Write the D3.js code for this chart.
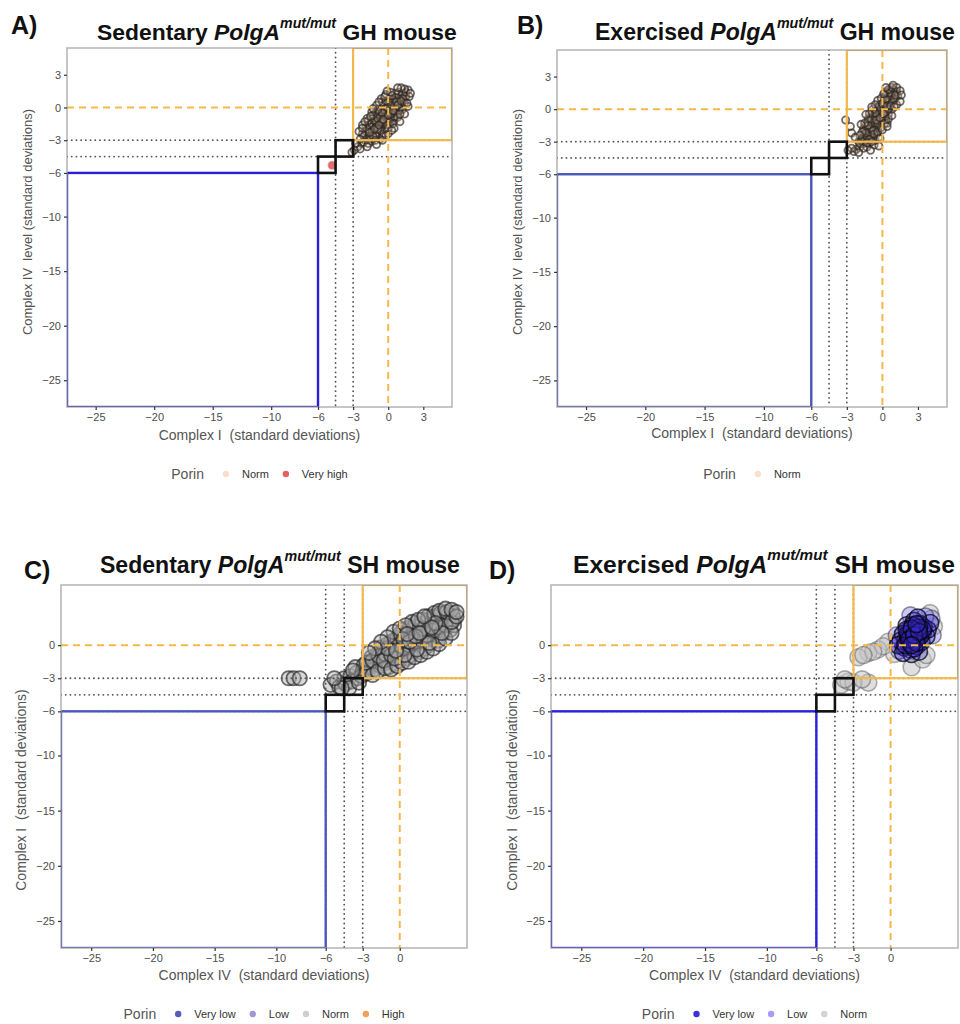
<!DOCTYPE html>
<html>
<head>
<meta charset="utf-8">
<script src="https://cdn.jsdelivr.net/npm/d3@7"></script>
<style>
  html, body { margin: 0; padding: 0; background: #fff; }
  svg { display: block; }
  text { font-family: "Liberation Sans", Arial, sans-serif; }
</style>
</head>
<body>
<svg id="fig" width="960" height="1024"></svg>
<script>
// ---- axis ticks and threshold levels (standard deviations) ----
const ticksGH = [-25, -20, -15, -10, -6, -3, 0, 3];
const ticksSH = [-25, -20, -15, -10, -6, -3, 0];
const dottedGH = [-4.5, -3];
const dottedSH = [-6, -4.5, -3];
const squareCorners = [[-6, -4.5], [-4.5, -3]];

// ---- porin categories per panel ----
const porinGH_sed = ["Norm", "Very high"];
const porinGH_exe = ["Norm"];
const porinSH_sed = ["Very low", "Low", "Norm", "High"];
const porinSH_exe = ["Very low", "Low", "Norm"];

// ---- fibre z-scores [x, y] ----
// Sedentary GH: Complex I (x) vs Complex IV (y)
const sedGH_norm = [
  [-0.5,-1.0],[-0.3,-0.8],[-0.7,-1.3],[0.0,-0.5],[0.2,-0.2],[-0.9,-1.5],[-1.1,-1.9],[0.4,0.1],
  [0.6,0.3],[-0.2,-1.2],[-0.6,-0.6],[-1.3,-2.2],[0.1,-0.9],[-0.4,-1.6],[0.8,0.6],[-0.8,-0.9],
  [-1.0,-1.2],[0.3,-0.5],[-1.5,-2.5],[0.5,-0.3],[-0.1,-0.3],[-1.2,-1.6],[1.0,0.8],[-0.3,-2.0],
  [0.7,-0.1],[-1.6,-2.0],[-0.9,-2.3],[0.9,0.2],[-0.6,-1.8],[0.0,0.2],[-1.4,-1.4],[0.2,-1.4],
  [1.1,1.1],[-1.8,-2.8],[-0.2,-0.1],[0.6,0.9],[-1.0,-0.7],[-0.5,-2.5],[0.4,-1.0],[-1.7,-2.4],
  [1.2,0.5],[-0.8,-0.3],[0.3,0.5],[-1.2,-2.8],[-2.0,-3.0],[0.8,-0.5],[-0.4,0.2],[1.3,1.3],
  [-1.4,-3.1],[-2.1,-2.6],[0.1,0.8],[-0.7,-2.9],[0.5,-1.2],[-1.9,-1.8],[-1.1,-0.5],[0.9,1.4],
  [1.5,1.0],[-2.3,-3.3],[-0.2,-2.6],[0.6,1.3],[-0.6,-1.1],[-0.1,-0.7],[0.2,0.0],[-1.3,-1.0],
  [-0.8,-1.9],[0.4,0.4],[-1.6,-2.7],[0.7,0.9],[-0.4,-0.4],[-1.0,-2.5],[0.0,-1.3],[1.0,0.3],
  [-1.4,-1.8],[-1.0,-1.4],[-0.6,-1.0],[-0.2,-0.6],[0.2,-0.4],[0.6,0.0],[0.9,0.5],[-1.6,-1.6],
  [-1.2,-1.2],[-0.8,-0.6],[-0.4,-0.2],[0.0,0.0],[0.4,0.7],[-1.9,-2.2],[-1.5,-2.9],[-1.1,-2.5],
  [-0.7,-2.1],[-0.3,-1.5],[0.1,-1.1],[0.5,-0.8],[0.9,-0.3],[1.2,0.1],[-2.2,-2.4],[-1.8,-2.0],
  [-1.4,-2.2],[-1.0,-1.8],[-0.6,-1.4],[-0.2,-0.9],[0.2,-0.6],[0.6,-0.4],[1.0,0.0],[1.3,0.8],
  [-0.9,-1.0],[-0.5,-0.5],[-0.1,0.0],[0.3,0.2],[0.7,0.5],[-1.7,-1.2],[-1.3,-0.7],[-0.9,-0.2],
  [-0.5,0.5],[0.0,0.5],[-2.1,-3.2],[-1.7,-3.3],[-1.3,-2.6],[-0.9,-2.0],[-0.5,-1.3],[-0.1,-1.6],
  [0.4,-1.5],[0.8,-0.9],[1.2,-0.2],[1.4,0.4],[-1.2,-2.0],[-0.8,-1.6],[-0.4,-1.1],[0.0,-0.7],
  [0.4,-0.3],[0.8,0.2],[1.1,0.6],[-0.2,0.6],[-1.6,-2.3],[-2.4,-2.9],
  [-1.8,-1.0],[-1.4,-0.4],[-1.0,0.2],[-0.6,0.8],[-0.2,1.2],[-2.2,-1.6],[0.0,-2.4],[0.5,-1.9],
  [1.0,-1.3],[1.4,-0.6],[-0.5,-3.0],[1.7,0.1],[-2.0,-1.3],[-1.1,-3.0],[0.3,1.1],[1.5,1.4],
  [1.7,1.6],[1.4,1.7],[-2.6,-3.6],[-2.4,-3.8],[-2.8,-3.3],[1.8,1.0],[0.2,1.4],[-0.8,0.5],
  [-1.5,-0.8],[1.0,-0.6],[-2.5,-2.2],[-1.0,-3.4],[0.0,-1.9],[1.6,0.4],[-0.3,1.0],[-1.8,-3.6],
  [-2.9,-3.9],[-3.1,-4.1],[1.1,1.8],[-1.3,-0.1],[0.3,-2.1],[-2.2,-1.9],[0.8,1.8],[-0.1,1.5],[1.9,1.3]
];
const sedGH_veryHigh = [[-4.8,-5.3]];

// Exercised GH: Complex I (x) vs Complex IV (y)
const exeGH_norm = [
  [-0.4,-0.9],[-0.2,-0.5],[-0.6,-1.3],[0.0,-0.1],[0.2,0.3],[-0.8,-1.7],[-1.0,-2.1],[0.4,0.6],
  [0.6,1.0],[-0.1,-1.2],[-0.7,-0.7],[-1.2,-2.5],[0.2,-0.7],[-0.4,-1.8],[0.8,1.3],[-0.9,-1.1],
  [-1.1,-1.5],[0.4,-0.2],[-1.4,-2.9],[0.6,0.2],[-0.3,0.0],[-1.3,-1.9],[1.0,1.5],[-0.5,-2.3],
  [0.7,0.5],[-1.5,-2.3],[-0.8,-2.7],[0.9,0.9],[-0.6,-0.2],[0.1,0.7],[-1.2,-1.2],[0.3,-1.0],
  [0.9,1.8],[-1.6,-3.2],[-0.2,0.4],[0.5,1.4],[-0.9,-0.4],[-0.6,-2.9],[0.5,-0.5],[-1.7,-2.7],
  [1.1,1.1],[-0.4,0.8],[0.2,1.2],[-1.1,-3.1],[-1.9,-3.5],[0.8,0.0],[-0.2,-1.5],[1.2,1.6],
  [-1.3,-3.5],[-2.0,-3.0],[-0.1,1.0],[-0.7,-3.3],[0.4,-1.3],[-1.6,-1.8],[-1.0,-0.8],[0.7,1.7],
  [1.3,1.2],[-2.2,-3.7],[-0.3,-2.6],[0.3,1.6],[-1.4,-1.5],[-0.9,-2.4],[0.0,-0.8],[-0.5,-1.5],
  [0.1,0.1],[-0.3,-1.1],[0.6,0.7],[-1.2,-2.1],[-0.7,-1.0],[0.3,0.3],[-0.5,-0.3],[-1.0,-2.8],
  [-1.2,-2.3],[-0.9,-1.8],[-0.6,-1.1],[-0.3,-0.6],[0.0,-0.3],[0.3,0.1],[0.6,0.8],[-1.5,-2.6],
  [-1.1,-1.8],[-0.8,-1.3],[-0.5,-0.7],[-0.2,-0.3],[0.1,0.3],[0.4,1.0],[0.7,1.2],[-1.6,-3.0],
  [-1.3,-2.7],[-1.0,-2.4],[-0.7,-1.9],[-0.4,-1.3],[-0.1,-0.9],[0.2,-0.4],[0.5,0.0],[0.8,0.6],
  [1.0,0.9],[-1.8,-2.9],[-1.5,-2.0],[-1.2,-1.5],[-0.9,-0.9],[-0.6,-0.4],[-0.3,0.2],[0.0,0.5],
  [0.3,0.9],[0.6,1.5],[-0.8,-2.0],[-0.5,-1.0],[-0.2,-0.8],[0.1,-0.4],[0.4,0.3],[0.7,0.3],
  [1.1,1.3],[-1.4,-2.2],[-1.1,-2.8],[-0.7,-2.3],[-0.4,-2.1],[-0.1,-1.7],[0.2,-1.3],[0.5,-0.9],
  [-1.9,-3.2],[-1.6,-3.6],[-1.3,-3.1],[-0.9,-3.0],[0.2,1.5],[0.5,1.8],[0.8,2.0],[-0.8,0.0],
  [-1.2,-0.9],[-1.7,-2.1],[-1.9,-2.4],[-1.5,-1.3],[-1.1,-0.4],[-0.6,0.4],[0.0,-1.9],[0.4,-1.6],
  [0.8,-0.6],[1.2,0.4],[-0.2,-2.7],[0.1,1.4],
  [1.2,2.0],[0.9,2.2],[1.5,1.7],[-2.4,-3.9],[-2.0,-4.0],[-2.6,-3.6],[-3.1,-1.0],[-2.7,-1.6],
  [-2.6,-2.2],[-2.3,-2.6],[1.5,0.7],[1.0,0.2],[-1.8,-1.4],[-1.4,-0.5],[0.3,2.0],[-1.0,-3.8],
  [-2.9,-3.8],[-0.3,-3.4],[1.6,1.3],[-0.9,0.2]
];

// Sedentary SH: Complex IV (x) vs Complex I (y)
const sedSH_norm = [
  [-5.6,-3.6],[-5.1,-3.3],[-4.9,-3.8],[-4.5,-3.0],[-4.4,-3.5],[-4.0,-2.8],[-3.9,-3.3],[-4.1,-3.9],
  [-3.5,-2.5],[-3.4,-3.0],[-3.6,-2.0],[-3.0,-2.3],[-2.9,-1.8],[-3.1,-2.8],[-2.5,-2.0],[-2.4,-1.5],
  [-2.6,-2.5],[-2.3,-1.1],[-2.0,-1.7],[-1.9,-1.2],[-2.1,-2.2],[-1.8,-0.8],[-1.5,-1.4],[-1.4,-0.9],
  [-1.6,-1.9],[-1.3,-0.5],[-1.5,-0.2],[-1.0,-1.1],[-0.9,-0.6],[-1.1,-1.6],[-0.8,-0.2],[-1.0,0.1],
  [-0.9,-2.0],[-0.5,-0.8],[-0.4,-0.3],[-0.6,-1.3],[-0.3,0.1],[-0.5,0.4],[-0.4,-1.7],[0.0,-0.5],
  [0.1,0.0],[-0.1,-1.0],[0.0,0.4],[0.1,0.8],[0.0,-1.4],[0.5,-0.2],[0.4,0.3],[0.6,-0.7],
  [0.5,0.7],[0.4,1.1],[0.6,-1.2],[1.0,0.1],[1.1,0.6],[0.9,-0.4],[1.0,1.0],[1.1,1.4],
  [0.9,-0.9],[1.5,0.4],[1.4,0.9],[1.6,-0.1],[1.5,1.3],[1.4,1.7],[1.6,-0.6],[2.0,0.7],
  [2.1,1.2],[1.9,0.2],[2.0,1.6],[2.1,2.0],[2.0,-0.3],[2.5,1.0],[2.4,1.5],[2.6,0.5],
  [2.5,1.9],[2.6,2.2],[2.4,0.0],[3.0,1.3],[2.9,1.8],[3.1,0.8],[3.0,2.2],[2.9,2.5],
  [3.1,0.4],[3.5,1.6],[3.4,2.1],[3.6,1.1],[3.5,2.5],[3.4,2.8],[4.0,1.9],[3.9,2.4],
  [4.1,1.4],[4.0,2.8],[4.4,2.3],[4.3,2.9],[4.4,1.8],
  [-2.8,-2.6],[-2.7,-1.6],[-2.2,-2.7],[-2.2,-1.4],[-1.8,-2.4],[-1.7,-1.0],[-1.2,-2.1],[-1.2,-0.8],
  [-1.3,-1.4],[-0.7,-2.2],[-0.7,-0.9],[-0.7,0.3],[-0.2,-1.9],[-0.2,-0.6],[-0.2,0.6],[0.2,-1.6],
  [0.2,-0.3],[0.2,1.0],[0.3,1.4],[0.7,-1.5],[0.7,0.0],[0.7,1.3],[0.8,1.6],[1.2,-1.1],
  [1.2,0.3],[1.2,1.7],[1.3,2.0],[1.7,-0.9],[1.7,0.5],[1.8,1.9],[1.8,2.3],[2.2,-0.6],
  [2.2,0.9],[2.3,2.3],[2.3,2.6],[2.7,-0.3],[2.7,1.3],[2.8,2.6],[2.8,2.9],[3.2,0.1],
  [3.2,1.6],[3.3,2.9],[3.2,3.1],[3.7,0.6],[3.7,1.8],[3.8,3.0],[3.7,3.3],[4.2,1.1],
  [4.2,2.1],[4.2,3.2],[4.6,2.6],[4.6,3.0],[-0.4,-1.2],[0.4,-0.9],[1.4,-0.4],[2.4,0.2],
  [3.4,1.1],[0.9,0.8],[1.9,1.5],[2.9,2.0],[-1.0,-0.3],[0.0,1.0],[1.0,2.1],[-3.3,-3.4],
  [-3.8,-2.3],[-4.7,-3.9],[-5.3,-3.0],
  [-0.5,1.2],[0.0,1.5],[0.5,1.8],[-1.0,0.7],[-1.5,0.3],[1.5,2.3],[2.0,2.6],[-2.0,-0.3],
  [-2.5,-0.7],[0.3,0.5],[0.8,0.3],[1.3,0.8],[-0.3,-0.5],[0.6,1.0],[1.6,1.1],[2.6,1.6],
  [-9.0,-3.0],[-8.6,-3.0],[-8.1,-3.0]
];
const sedSH_veryLow = [[1.2,0.8],[2.2,1.4]];
const sedSH_low = [[0.6,0.2],[1.8,1.0]];
const sedSH_high = [[0.3,-0.3]];

// Exercised SH: Complex IV (x) vs Complex I (y)
const exeSH_veryLow = [
  [1.2,0.5],[1.6,0.8],[2.0,1.0],[1.4,0.2],[1.8,0.3],[2.2,0.6],[2.6,1.1],[1.0,1.0],
  [1.5,1.4],[2.0,1.6],[2.4,1.9],[1.1,-0.2],[1.6,-0.4],[2.1,-0.1],[2.5,0.3],[2.9,0.8],
  [0.8,0.4],[1.3,1.8],[1.9,2.2],[2.7,1.6],[3.0,1.4],[1.7,-0.8],[2.3,-0.6],[0.6,0.0],
  [3.2,2.0],[2.2,2.5],[1.0,-0.7],
  [1.4,0.6],[1.8,0.7],[2.2,0.9],[1.6,1.1],[2.0,1.3],[1.2,0.0],[1.6,0.2],[2.0,0.4],
  [2.4,0.8],[1.8,1.8],[1.4,1.0],[2.6,1.4],[1.9,-0.3],[1.3,1.4],[2.3,1.6],[1.7,1.5],[2.1,0.2],
  [1.5,0.5],[1.9,0.9],[2.3,1.2],[1.7,0.0],[2.1,1.9]
];
const exeSH_low = [[0.5,0.9],[3.3,2.4],[2.8,2.6],[0.7,-0.5],[3.4,0.9],[1.6,2.7]];
const exeSH_norm = [
  [3.2,2.9],[1.7,-2.0],[2.6,-1.3],[-0.2,0.3],[-1.0,-0.4],[-1.8,-0.7],[-2.6,-1.1],[-1.8,-3.4],
  [-4.0,-3.6],[-3.4,-3.3],[0.3,-0.8],[-0.6,-0.1],[3.5,1.7],[2.9,-0.9],
  [-1.4,-0.6],[-2.2,-0.9],[-3.0,-3.4],[-2.3,-3.1],[-3.7,-3.1]
];

// ---- text ----
const panelLetters = ["A)", "B)", "C)", "D)"];
const titleLead = ["Sedentary ", "Exercised ", "Sedentary ", "Exercised "];
const titleTail = [" GH mouse", " GH mouse", " SH mouse", " SH mouse"];
const xTitles = ["Complex I  (standard deviations)", "Complex I  (standard deviations)",
                 "Complex IV  (standard deviations)", "Complex IV  (standard deviations)"];
const yTitles = ["Complex IV  level (standard deviations)", "Complex IV  level (standard deviations)",
                 "Complex I  (standard deviations)", "Complex I  (standard deviations)"];

// ---- styles and panel layout ----
const domain = [-27.45, 5.45];
const orange = "#f5b84c";

const ghStyle = {fill: "#efc9a6", fo: 0.25, stroke: "#2a2623", so: 0.68};
const panels = [
  { box: {l: 67,  r: 452, t: 48,  b: 407}, ticks: ticksGH, dotted: dottedGH, blue: "#2a1fd8",
    letter: {x: 11, y: 34}, title: {x: 97, y: 40, w: 360},
    yTitle: {x: 27, y: 222}, xTitleY: 435, legendY: 474, r: 3.6, strokeW: 1.8,
    series: [
      Object.assign({data: sedGH_norm}, ghStyle),
      {data: sedGH_veryHigh, fill: "#e0605e", fo: 0.9, stroke: "#e0605e", so: 0.6}
    ],
    legend: porinGH_sed, legendColors: {"Norm": "#fbe0c9", "Very high": "#e06262"} },
  { box: {l: 557, r: 947, t: 50,  b: 407}, ticks: ticksGH, dotted: dottedGH, blue: "#4a56b8",
    letter: {x: 517, y: 34}, title: {x: 595, y: 40, w: 360},
    yTitle: {x: 517, y: 222}, xTitleY: 433, legendY: 474, r: 3.6, strokeW: 1.8,
    series: [
      Object.assign({data: exeGH_norm}, ghStyle)
    ],
    legend: porinGH_exe, legendColors: {"Norm": "#fbe0c9"} },
  { box: {l: 61,  r: 467, t: 585, b: 948}, ticks: ticksSH, dotted: dottedSH, blue: "#4b58ba",
    letter: {x: 24, y: 579}, title: {x: 100, y: 573, w: 360},
    yTitle: {x: 21, y: 790}, xTitleY: 975, legendY: 1014, r: 7.2, strokeW: 1.8,
    series: [
      {data: sedSH_veryLow, fill: "#5a5ab8", fo: 0.4, stroke: "#2e2e2e", so: 0.5},
      {data: sedSH_low, fill: "#9f9ad2", fo: 0.4, stroke: "#2e2e2e", so: 0.5},
      {data: sedSH_high, fill: "#f29a5c", fo: 0.4, stroke: "#2e2e2e", so: 0.5},
      {data: sedSH_norm, fill: "#adadad", fo: 0.45, stroke: "#232323", so: 0.66}
    ],
    legend: porinSH_sed, legendColors: {"Very low": "#5a5ab8", "Low": "#a09ad4", "Norm": "#cfcfcf", "High": "#f2a05e"} },
  { box: {l: 551, r: 958, t: 585, b: 948}, ticks: ticksSH, dotted: dottedSH, blue: "#2b1fe0",
    letter: {x: 489, y: 579}, title: {x: 573, y: 573, w: 382},
    yTitle: {x: 512, y: 790}, xTitleY: 975, legendY: 1014, r: 8.5, strokeW: 1.6,
    series: [
      {data: exeSH_norm, fill: "#c4c4c4", fo: 0.55, stroke: "#555555", so: 0.45},
      {data: exeSH_low, fill: "#9a92f4", fo: 0.5, stroke: "#22223a", so: 0.45},
      {data: exeSH_veryLow, fill: "#3b2bdc", fo: 0.3, stroke: "#05050c", so: 0.75}
    ],
    legend: porinSH_exe, legendColors: {"Very low": "#3b2fe0", "Low": "#a59ef8", "Norm": "#d3d3d3"} }
];

const svg = d3.select("#fig");

// scale a text node's font so its rendered width matches the target width
function fitWidth(sel, target) {
  const node = sel.node();
  const fs = parseFloat(sel.style("font-size"));
  const w = node.getComputedTextLength();
  if (w > 0) sel.style("font-size", (fs * target / w) + "px");
}

panels.forEach((p, i) => {
  const {l, r, t, b} = p.box;
  const x = d3.scaleLinear().domain(domain).range([l, r]);
  const y = d3.scaleLinear().domain(domain).range([b, t]);
  const g = svg.append("g");

  const clipId = "clip" + i;
  g.append("clipPath").attr("id", clipId)
    .append("rect").attr("x", l).attr("y", t).attr("width", r - l).attr("height", b - t);
  const plot = g.append("g").attr("clip-path", `url(#${clipId})`);

  // fibres
  p.series.forEach(s => {
    plot.append("g").selectAll("circle").data(s.data).join("circle")
      .attr("cx", d => x(d[0])).attr("cy", d => y(d[1])).attr("r", p.r)
      .attr("fill", s.fill).attr("fill-opacity", s.fo)
      .attr("stroke", s.stroke).attr("stroke-opacity", s.so).attr("stroke-width", p.strokeW);
  });

  // dotted threshold lines
  p.dotted.forEach(v => {
    plot.append("line").attr("x1", x(v)).attr("x2", x(v)).attr("y1", t).attr("y2", b)
      .attr("stroke", "#555").attr("stroke-width", 1.8).attr("stroke-linecap", "round")
      .attr("stroke-dasharray", "0.1,4.6");
    plot.append("line").attr("y1", y(v)).attr("y2", y(v)).attr("x1", l).attr("x2", r)
      .attr("stroke", "#555").attr("stroke-width", 1.8).attr("stroke-linecap", "round")
      .attr("stroke-dasharray", "0.1,4.6");
  });

  // deficient region (below -6 on both axes)
  plot.append("rect")
    .attr("x", l).attr("y", y(-6)).attr("width", x(-6) - l).attr("height", b - y(-6))
    .attr("fill", "none").attr("stroke", p.blue).attr("stroke-width", 2.4);

  // normal region (above -3 on both axes)
  plot.append("rect")
    .attr("x", x(-3)).attr("y", t).attr("width", r - x(-3)).attr("height", y(-3) - t)
    .attr("fill", "none").attr("stroke", orange).attr("stroke-width", 2.2);

  // zero lines
  plot.append("line").attr("x1", x(0)).attr("x2", x(0)).attr("y1", t).attr("y2", b)
    .attr("stroke", orange).attr("stroke-width", 2).attr("stroke-dasharray", "7,5");
  plot.append("line").attr("y1", y(0)).attr("y2", y(0)).attr("x1", l).attr("x2", r)
    .attr("stroke", orange).attr("stroke-width", 2).attr("stroke-dasharray", "7,5");

  // intermediate squares
  squareCorners.forEach(([a, c]) => {
    plot.append("rect")
      .attr("x", x(a)).attr("y", y(c)).attr("width", x(c) - x(a)).attr("height", y(a) - y(c))
      .attr("fill", "none").attr("stroke", "#111").attr("stroke-width", 2.6);
  });

  // panel border
  g.append("rect").attr("x", l).attr("y", t).attr("width", r - l).attr("height", b - t)
    .attr("fill", "none").attr("stroke", "#9a9a9a").attr("stroke-opacity", 0.75).attr("stroke-width", 1.5);

  // axes
  const xAxis = g.append("g").attr("transform", `translate(0,${b})`)
    .call(d3.axisBottom(x).tickValues(p.ticks).tickSize(3).tickPadding(3).tickFormat(d3.format("d")));
  const yAxis = g.append("g").attr("transform", `translate(${l},0)`)
    .call(d3.axisLeft(y).tickValues(p.ticks).tickSize(3).tickPadding(3).tickFormat(d3.format("d")));
  [xAxis, yAxis].forEach(a => {
    a.select(".domain").remove();
    a.selectAll(".tick line").attr("stroke", "#333").attr("stroke-width", 1.2);
    a.selectAll(".tick text").attr("fill", "#4d4d4d").style("font-size", "11px")
      .style("font-family", "'Liberation Sans', Arial, sans-serif");
  });

  // axis titles
  g.append("text").attr("x", (l + r) / 2).attr("y", p.xTitleY).attr("dy", "0.35em")
    .attr("text-anchor", "middle").style("white-space", "pre")
    .attr("fill", "#555").style("font-size", "14px").text(xTitles[i]);
  g.append("text").attr("transform", `translate(${p.yTitle.x},${p.yTitle.y}) rotate(-90)`)
    .attr("text-anchor", "middle").attr("dy", "0.35em").style("white-space", "pre")
    .attr("fill", "#555").style("font-size", i < 2 ? "13px" : "14px").text(yTitles[i]);

  // panel letter and title
  g.append("text").attr("x", p.letter.x).attr("y", p.letter.y)
    .style("font-size", "25px").style("font-weight", "bold").attr("fill", "#111").text(panelLetters[i]);
  const tt = g.append("text").attr("x", p.title.x).attr("y", p.title.y)
    .style("font-size", "21px").style("font-weight", "bold").attr("fill", "#111")
    .style("white-space", "pre");
  tt.append("tspan").text(titleLead[i]);
  tt.append("tspan").style("font-style", "italic").text("PolgA");
  tt.append("tspan").style("font-style", "italic").style("font-size", "0.62em").attr("dy", "-0.85em").text("mut/mut");
  tt.append("tspan").attr("dy", "0.53em").text(titleTail[i]);
  fitWidth(tt, p.title.w);

  // legend
  const lg = g.append("g");
  const porin = lg.append("text").attr("x", 0).attr("y", 0).attr("dy", "0.35em")
    .attr("fill", "#555").style("font-size", "14px").text("Porin");
  let cx = porin.node().getComputedTextLength() + 22;
  p.legend.forEach(cat => {
    lg.append("circle").attr("cx", cx).attr("cy", 0).attr("r", 3.2).attr("fill", p.legendColors[cat]);
    const lab = lg.append("text").attr("x", cx + 16).attr("y", 0).attr("dy", "0.35em")
      .attr("fill", "#333").style("font-size", "11px").text(cat);
    cx += 16 + lab.node().getComputedTextLength() + 17;
  });
  const lw = cx - 17;
  lg.attr("transform", `translate(${(l + r) / 2 - lw / 2},${p.legendY})`);
});
</script>
</body>
</html>
